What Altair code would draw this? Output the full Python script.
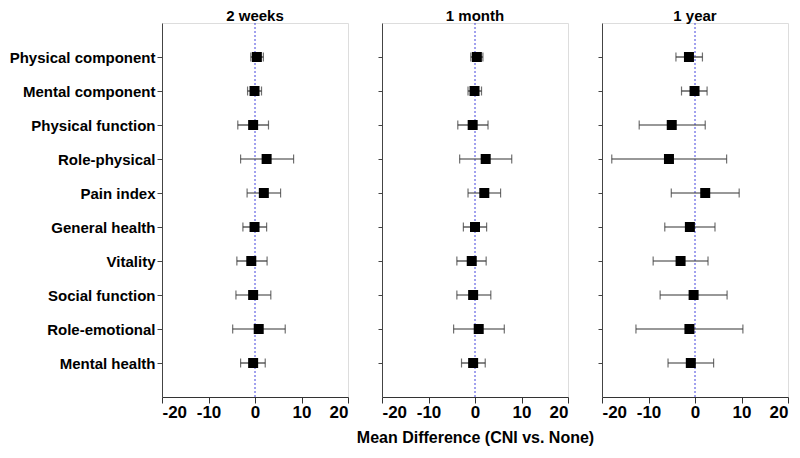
import altair as alt
import pandas as pd

measures = ["Physical component", "Mental component", "Physical function", "Role-physical",
            "Pain index", "General health", "Vitality", "Social function",
            "Role-emotional", "Mental health"]
panels = ["2 weeks", "1 month", "1 year"]

mean_2w = [0.4, -0.1, -0.4, 2.5, 1.9, -0.1, -0.8, -0.4, 0.8, -0.4]
lo_2w = [-0.9, -1.6, -3.7, -3.1, -1.7, -2.6, -3.9, -4.1, -4.8, -3.1]
hi_2w = [1.8, 1.4, 2.9, 8.3, 5.5, 2.5, 2.6, 3.4, 6.5, 2.2]

mean_1m = [0.4, -0.1, -0.5, 2.3, 2.0, 0.0, -0.7, -0.4, 0.8, -0.4]
lo_1m = [-0.9, -1.5, -3.7, -3.3, -1.5, -2.5, -3.9, -3.9, -4.6, -2.9]
hi_1m = [1.7, 1.4, 2.8, 7.9, 5.5, 2.5, 2.4, 3.4, 6.3, 2.2]

mean_1y = [-1.3, -0.1, -5.0, -5.6, 2.2, -1.1, -3.1, -0.3, -1.2, -0.9]
lo_1y = [-4.1, -2.9, -12.0, -17.9, -5.1, -6.5, -9.0, -7.5, -12.7, -5.8]
hi_1y = [1.6, 2.6, 2.2, 6.8, 9.5, 4.3, 2.8, 6.9, 10.3, 4.0]

series = {
    "2 weeks": (mean_2w, lo_2w, hi_2w),
    "1 month": (mean_1m, lo_1m, hi_1m),
    "1 year": (mean_1y, lo_1y, hi_1y),
}
rows = []
for p in panels:
    m, lo, hi = series[p]
    for i, name in enumerate(measures):
        rows.append({"panel": p, "measure": name, "mean": m[i], "lo": lo[i], "hi": hi[i]})
df = pd.DataFrame(rows)

FONT = "Liberation Sans"
W, H = 186, 374


def panel(name, idx):
    xaxis = alt.Axis(values=[-20, -10, 0, 10, 20], grid=False, labelFontSize=17,
                     labelFontWeight="bold", labelColor="black", tickSize=6,
                     tickColor="#333", domainColor="#333", labelPadding=1,
                     labelExpr="'' + datum.value",
                     title="Mean Difference (CNI vs. None)" if idx == 1 else None,
                     titleFontSize=16, titleFontWeight="bold", titlePadding=9,
                     titleColor="black")
    if idx == 0:
        yaxis = alt.Axis(title=None, labelFontSize=15, labelFontWeight="bold",
                         labelColor="black", tickSize=5, tickColor="#444",
                         domainColor="#444", labelPadding=2, labelLimit=300)
    else:
        yaxis = alt.Axis(title=None, labels=False, tickSize=4, tickColor="#444",
                         domainColor="#444")
    xs = alt.Scale(domain=[-20, 20], nice=False, zero=False)
    ys = alt.Scale(type="point", padding=1, domain=measures)
    base = alt.Chart(df).transform_filter(alt.datum.panel == name)

    zero = alt.Chart(pd.DataFrame({"z": [0]})).mark_rule(
        color="#4444dd", strokeDash=[2, 2], strokeWidth=1
    ).encode(x=alt.X("z:Q", scale=xs, axis=xaxis))
    bar = base.mark_rule(color="#333", strokeWidth=1.2).encode(
        x=alt.X("lo:Q", scale=xs, axis=xaxis),
        x2="hi:Q",
        y=alt.Y("measure:N", scale=ys, axis=yaxis, sort=measures),
    )
    cap_lo = base.mark_tick(color="#333", thickness=1.2, size=9, orient="vertical").encode(
        x=alt.X("lo:Q", scale=xs), y=alt.Y("measure:N", scale=ys, sort=measures))
    cap_hi = base.mark_tick(color="#333", thickness=1.2, size=9, orient="vertical").encode(
        x=alt.X("hi:Q", scale=xs), y=alt.Y("measure:N", scale=ys, sort=measures))
    pt = base.mark_square(color="black", size=100, opacity=1).encode(
        x=alt.X("mean:Q", scale=xs), y=alt.Y("measure:N", scale=ys, sort=measures))
    return alt.layer(zero, bar, cap_lo, cap_hi, pt).properties(
        width=W, height=H,
        title=alt.TitleParams(name, fontSize=15, fontWeight="bold", font=FONT,
                              color="black", offset=-1, anchor="middle"),
    )


chart = alt.hconcat(*[panel(p, i) for i, p in enumerate(panels)], spacing=34,
                    bounds="flush").properties(
    padding={"left": 0, "top": 0, "right": 0, "bottom": 0}
).configure_view(stroke="#555", strokeWidth=1).configure(
    font=FONT
).configure_axis(labelFont=FONT, titleFont=FONT)

chart.save("out.html", embed_options={"renderer": "svg", "actions": False})
